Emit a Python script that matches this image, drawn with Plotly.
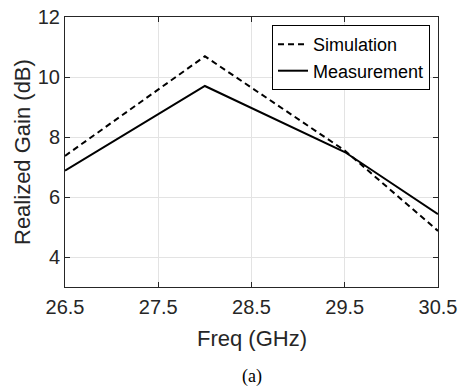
import plotly.graph_objects as go

freq = [26.5, 28.0, 29.5, 30.5]
simulation = [7.37, 10.69, 7.55, 4.87]
measurement = [6.88, 9.70, 7.50, 5.43]
x_ticks = [26.5, 27.5, 28.5, 29.5, 30.5]
y_ticks = [4, 6, 8, 10, 12]

W, H = 459, 387
L, R, T, B = 65, 21, 17, 100
FONT = "Liberation Sans, Arial, Helvetica"
plot_w, plot_h = W - L - R, H - T - B

fig = go.Figure()
fig.add_trace(go.Scatter(x=freq, y=simulation, mode="lines", name="Simulation",
                         line=dict(color="black", width=2, dash="6px,4px")))
fig.add_trace(go.Scatter(x=freq, y=measurement, mode="lines", name="Measurement",
                         line=dict(color="black", width=2)))

axis_common = dict(showline=True, linecolor="#262626", linewidth=1, mirror="ticks",
                   ticks="inside", ticklen=5, tickcolor="#262626",
                   showgrid=True, gridcolor="#e3e3e3", gridwidth=1, zeroline=False,
                   ticklabeloverflow="allow", automargin=False,
                   tickfont=dict(family=FONT, size=20, color="#262626"))

fig.update_xaxes(range=[26.5, 30.5], tickvals=x_ticks, ticktext=[f"{v:.1f}" for v in x_ticks],
                 ticklabelstandoff=2, **axis_common)
fig.update_yaxes(range=[3, 12], tickvals=y_ticks, **axis_common)

title_font = dict(family=FONT, size=22, color="#262626")
fig.update_layout(
    width=W, height=H,
    margin=dict(l=L, r=R, t=T, b=B),
    plot_bgcolor="white", paper_bgcolor="white",
    showlegend=True,
    legend=dict(x=0.555, y=0.97, xanchor="left", yanchor="top",
                bgcolor="white", bordercolor="black", borderwidth=1,
                font=dict(family=FONT, size=18, color="black"),
                tracegroupgap=0, itemwidth=30),
    annotations=[
        dict(text="Freq (GHz)", xref="paper", yref="paper", x=0.5, y=-51 / plot_h,
             xanchor="center", yanchor="middle", showarrow=False, font=title_font),
        dict(text="Realized Gain (dB)", xref="paper", yref="paper", x=-43 / plot_w, y=0.5,
             xanchor="center", yanchor="middle", showarrow=False, textangle=-90, font=title_font),
        dict(text="(a)", xref="paper", yref="paper", x=0.5, y=-0.333,
             xanchor="center", yanchor="middle", showarrow=False,
             font=dict(family="Liberation Serif, Times New Roman", size=18, color="black")),
    ],
)

# remove the browser's default 8px body margin so the figure fills the window exactly
fig.write_html("out.html", config={"displayModeBar": False},
               post_script="document.body.style.margin='0';")
